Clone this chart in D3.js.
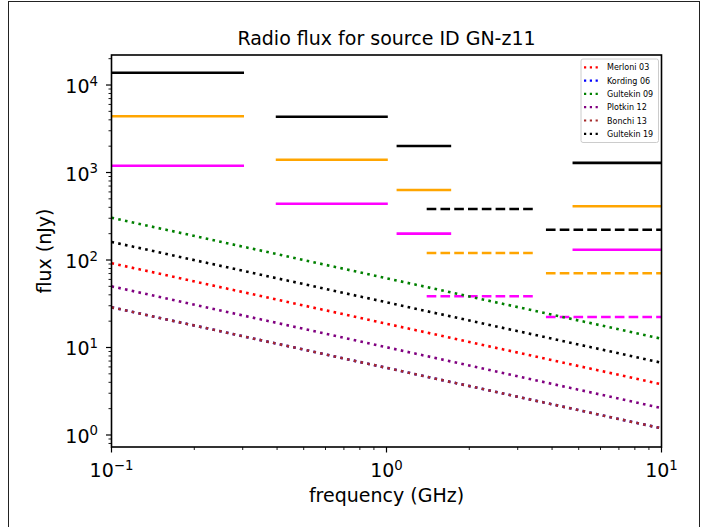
<!DOCTYPE html>
<html>
<head>
<meta charset="utf-8">
<script src="https://cdn.jsdelivr.net/npm/d3@7"></script>
<style>
  body { margin: 0; background: #fff; }
  text { font-family: "DejaVu Sans", sans-serif; fill: #000; }
</style>
</head>
<body>
<div id="chart"></div>
<script>
// frequency bands (GHz) of the survey sensitivity limits
var solidBands = [[0.1, 0.3], [0.4, 1.0], [1.1, 1.7], [4.8, 10]];
var dashedBands = [[1.4, 3.5], [3.8, 10]];

// sensitivity levels (nJy) per band
var solidBlack = [13800, 4340, 2010, 1290];
var solidOrange = [4390, 1400, 631, 411];
var solidMagenta = [1196, 440, 200, 131];
var dashedBlack = [383, 222];
var dashedOrange = [120, 70.5];
var dashedMagenta = [38.5, 22.3];

// predicted radio flux from the fundamental-plane relations
var modelFreqs = [0.1, 10];
var modelNames = ["Merloni 03", "Kording 06", "Gultekin 09", "Plotkin 12", "Bonchi 13", "Gultekin 19"];
var modelColors = ["red", "blue", "green", "purple", "brown", "black"];
var merloni03 = [92, 3.8];
var kording06 = [28.8, 1.19];
var gultekin09 = [304, 12.6];
var plotkin12 = [50, 2.03];
var bonchi13 = [28.8, 1.19];
var gultekin19 = [161, 6.7];
var modelValues = [merloni03, kording06, gultekin09, plotkin12, bonchi13, gultekin19];

var xTicks = [0.1, 1, 10];
var xTickExp = ["\u22121", "0", "1"];
var yTicks = [1, 10, 100, 1000, 10000];
var yTickExp = ["0", "1", "2", "3", "4"];

var W = 707, H = 527;
var plotL = 111.5, plotR = 661.5, plotT = 55, plotB = 447;

var svg = d3.select("#chart").append("svg")
    .attr("width", W).attr("height", H);

// figure frame
svg.append("rect")
    .attr("x", 8.5).attr("y", 1.5)
    .attr("width", 691).attr("height", 560)
    .attr("fill", "none").attr("stroke", "#222").attr("stroke-width", 1);

var x = d3.scaleLog().domain([0.1, 10]).range([plotL, plotR]);
var y = d3.scaleLog().domain([0.729, 22030]).range([plotB, plotT]);

svg.append("clipPath").attr("id", "clip")
  .append("rect")
    .attr("x", plotL).attr("y", plotT)
    .attr("width", plotR - plotL).attr("height", plotB - plotT);

var plot = svg.append("g").attr("clip-path", "url(#clip)");
var lw = 2.6;

function drawBands(bands, values, color, dashed) {
  plot.append("g").selectAll("line")
    .data(values)
    .enter().append("line")
      .attr("x1", function(d, i) { return x(bands[i][0]); })
      .attr("x2", function(d, i) { return x(bands[i][1]); })
      .attr("y1", function(d) { return y(d); })
      .attr("y2", function(d) { return y(d); })
      .attr("stroke", color)
      .attr("stroke-width", lw)
      .attr("stroke-linecap", dashed ? "butt" : "square")
      .attr("stroke-dasharray", dashed ? (3.7 * lw) + "," + (1.6 * lw) : null);
}

drawBands(solidBands, solidBlack, "black", false);
drawBands(solidBands, solidOrange, "orange", false);
drawBands(solidBands, solidMagenta, "magenta", false);
drawBands(dashedBands, dashedBlack, "black", true);
drawBands(dashedBands, dashedOrange, "orange", true);
drawBands(dashedBands, dashedMagenta, "magenta", true);

var line = d3.line()
    .x(function(d) { return x(d[0]); })
    .y(function(d) { return y(d[1]); });

modelValues.forEach(function(vals, k) {
  plot.append("path")
    .datum(modelFreqs.map(function(f, i) { return [f, vals[i]]; }))
    .attr("d", line)
    .attr("fill", "none")
    .attr("stroke", modelColors[k])
    .attr("stroke-width", lw)
    .attr("stroke-dasharray", (1 * lw) + "," + (1.65 * lw));
});

// ticks
var g = svg.append("g");
var minorX = [];
[0.1, 1].forEach(function(dec) {
  for (var m = 2; m <= 9; m++) minorX.push(dec * m);
});
var minorY = [0.8, 0.9];
[1, 10, 100, 1000, 10000].forEach(function(dec) {
  for (var m = 2; m <= 9; m++) if (dec * m < 22030) minorY.push(dec * m);
});

g.selectAll(".xminor").data(minorX).enter().append("line")
    .attr("x1", function(d) { return x(d); }).attr("x2", function(d) { return x(d); })
    .attr("y1", plotB).attr("y2", plotB + 3)
    .attr("stroke", "#000").attr("stroke-width", 0.9);
g.selectAll(".xmajor").data(xTicks).enter().append("line")
    .attr("x1", function(d) { return x(d); }).attr("x2", function(d) { return x(d); })
    .attr("y1", plotB).attr("y2", plotB + 5.5)
    .attr("stroke", "#000").attr("stroke-width", 1.2);
g.selectAll(".yminor").data(minorY).enter().append("line")
    .attr("y1", function(d) { return y(d); }).attr("y2", function(d) { return y(d); })
    .attr("x1", plotL).attr("x2", plotL - 3)
    .attr("stroke", "#000").attr("stroke-width", 0.9);
g.selectAll(".ymajor").data(yTicks).enter().append("line")
    .attr("y1", function(d) { return y(d); }).attr("y2", function(d) { return y(d); })
    .attr("x1", plotL).attr("x2", plotL - 5.5)
    .attr("stroke", "#000").attr("stroke-width", 1.2);

// tick labels
xTicks.forEach(function(t, i) {
  var tx = g.append("text")
      .attr("x", x(t)).attr("y", 477)
      .attr("text-anchor", "middle")
      .style("font-size", "19px");
  tx.append("tspan").text("10");
  tx.append("tspan").attr("dy", -7.5).style("font-size", "13.3px").text(xTickExp[i]);
});
yTicks.forEach(function(t, i) {
  var tx = g.append("text")
      .attr("x", 98).attr("y", y(t) + 8)
      .attr("text-anchor", "end")
      .style("font-size", "19px");
  tx.append("tspan").text("10");
  tx.append("tspan").attr("dy", -7.5).style("font-size", "13.3px").text(yTickExp[i]);
});

// axes frame
svg.append("rect")
    .attr("x", plotL).attr("y", plotT)
    .attr("width", plotR - plotL).attr("height", plotB - plotT)
    .attr("fill", "none").attr("stroke", "#000").attr("stroke-width", 1.6);

// titles
svg.append("text")
    .attr("x", (plotL + plotR) / 2).attr("y", 45)
    .attr("text-anchor", "middle")
    .style("font-size", "19px")
    .text("Radio flux for source ID GN-z11");
svg.append("text")
    .attr("x", (plotL + plotR) / 2).attr("y", 501.5)
    .attr("text-anchor", "middle")
    .style("font-size", "19px")
    .text("frequency (GHz)");
svg.append("text")
    .attr("transform", "translate(51," + ((plotT + plotB) / 2) + ") rotate(-90)")
    .attr("text-anchor", "middle")
    .style("font-size", "19px")
    .text("flux (nJy)");

// legend
var lg = svg.append("g").attr("transform", "translate(581,59)");
lg.append("rect")
    .attr("width", 77.5).attr("height", 83.5)
    .attr("rx", 2)
    .attr("fill", "#fff").attr("fill-opacity", 0.8)
    .attr("stroke", "#ccc").attr("stroke-width", 1);
modelNames.forEach(function(name, k) {
  var ry = 8.3 + k * 13.3;
  lg.append("line")
      .attr("x1", 3).attr("x2", 18.5)
      .attr("y1", ry).attr("y2", ry)
      .attr("stroke", modelColors[k])
      .attr("stroke-width", 2.2)
      .attr("stroke-dasharray", "2.2,3.6");
  lg.append("text")
      .attr("x", 26).attr("y", ry + 3)
      .style("font-size", "8px")
      .text(name);
});
</script>
</body>
</html>
